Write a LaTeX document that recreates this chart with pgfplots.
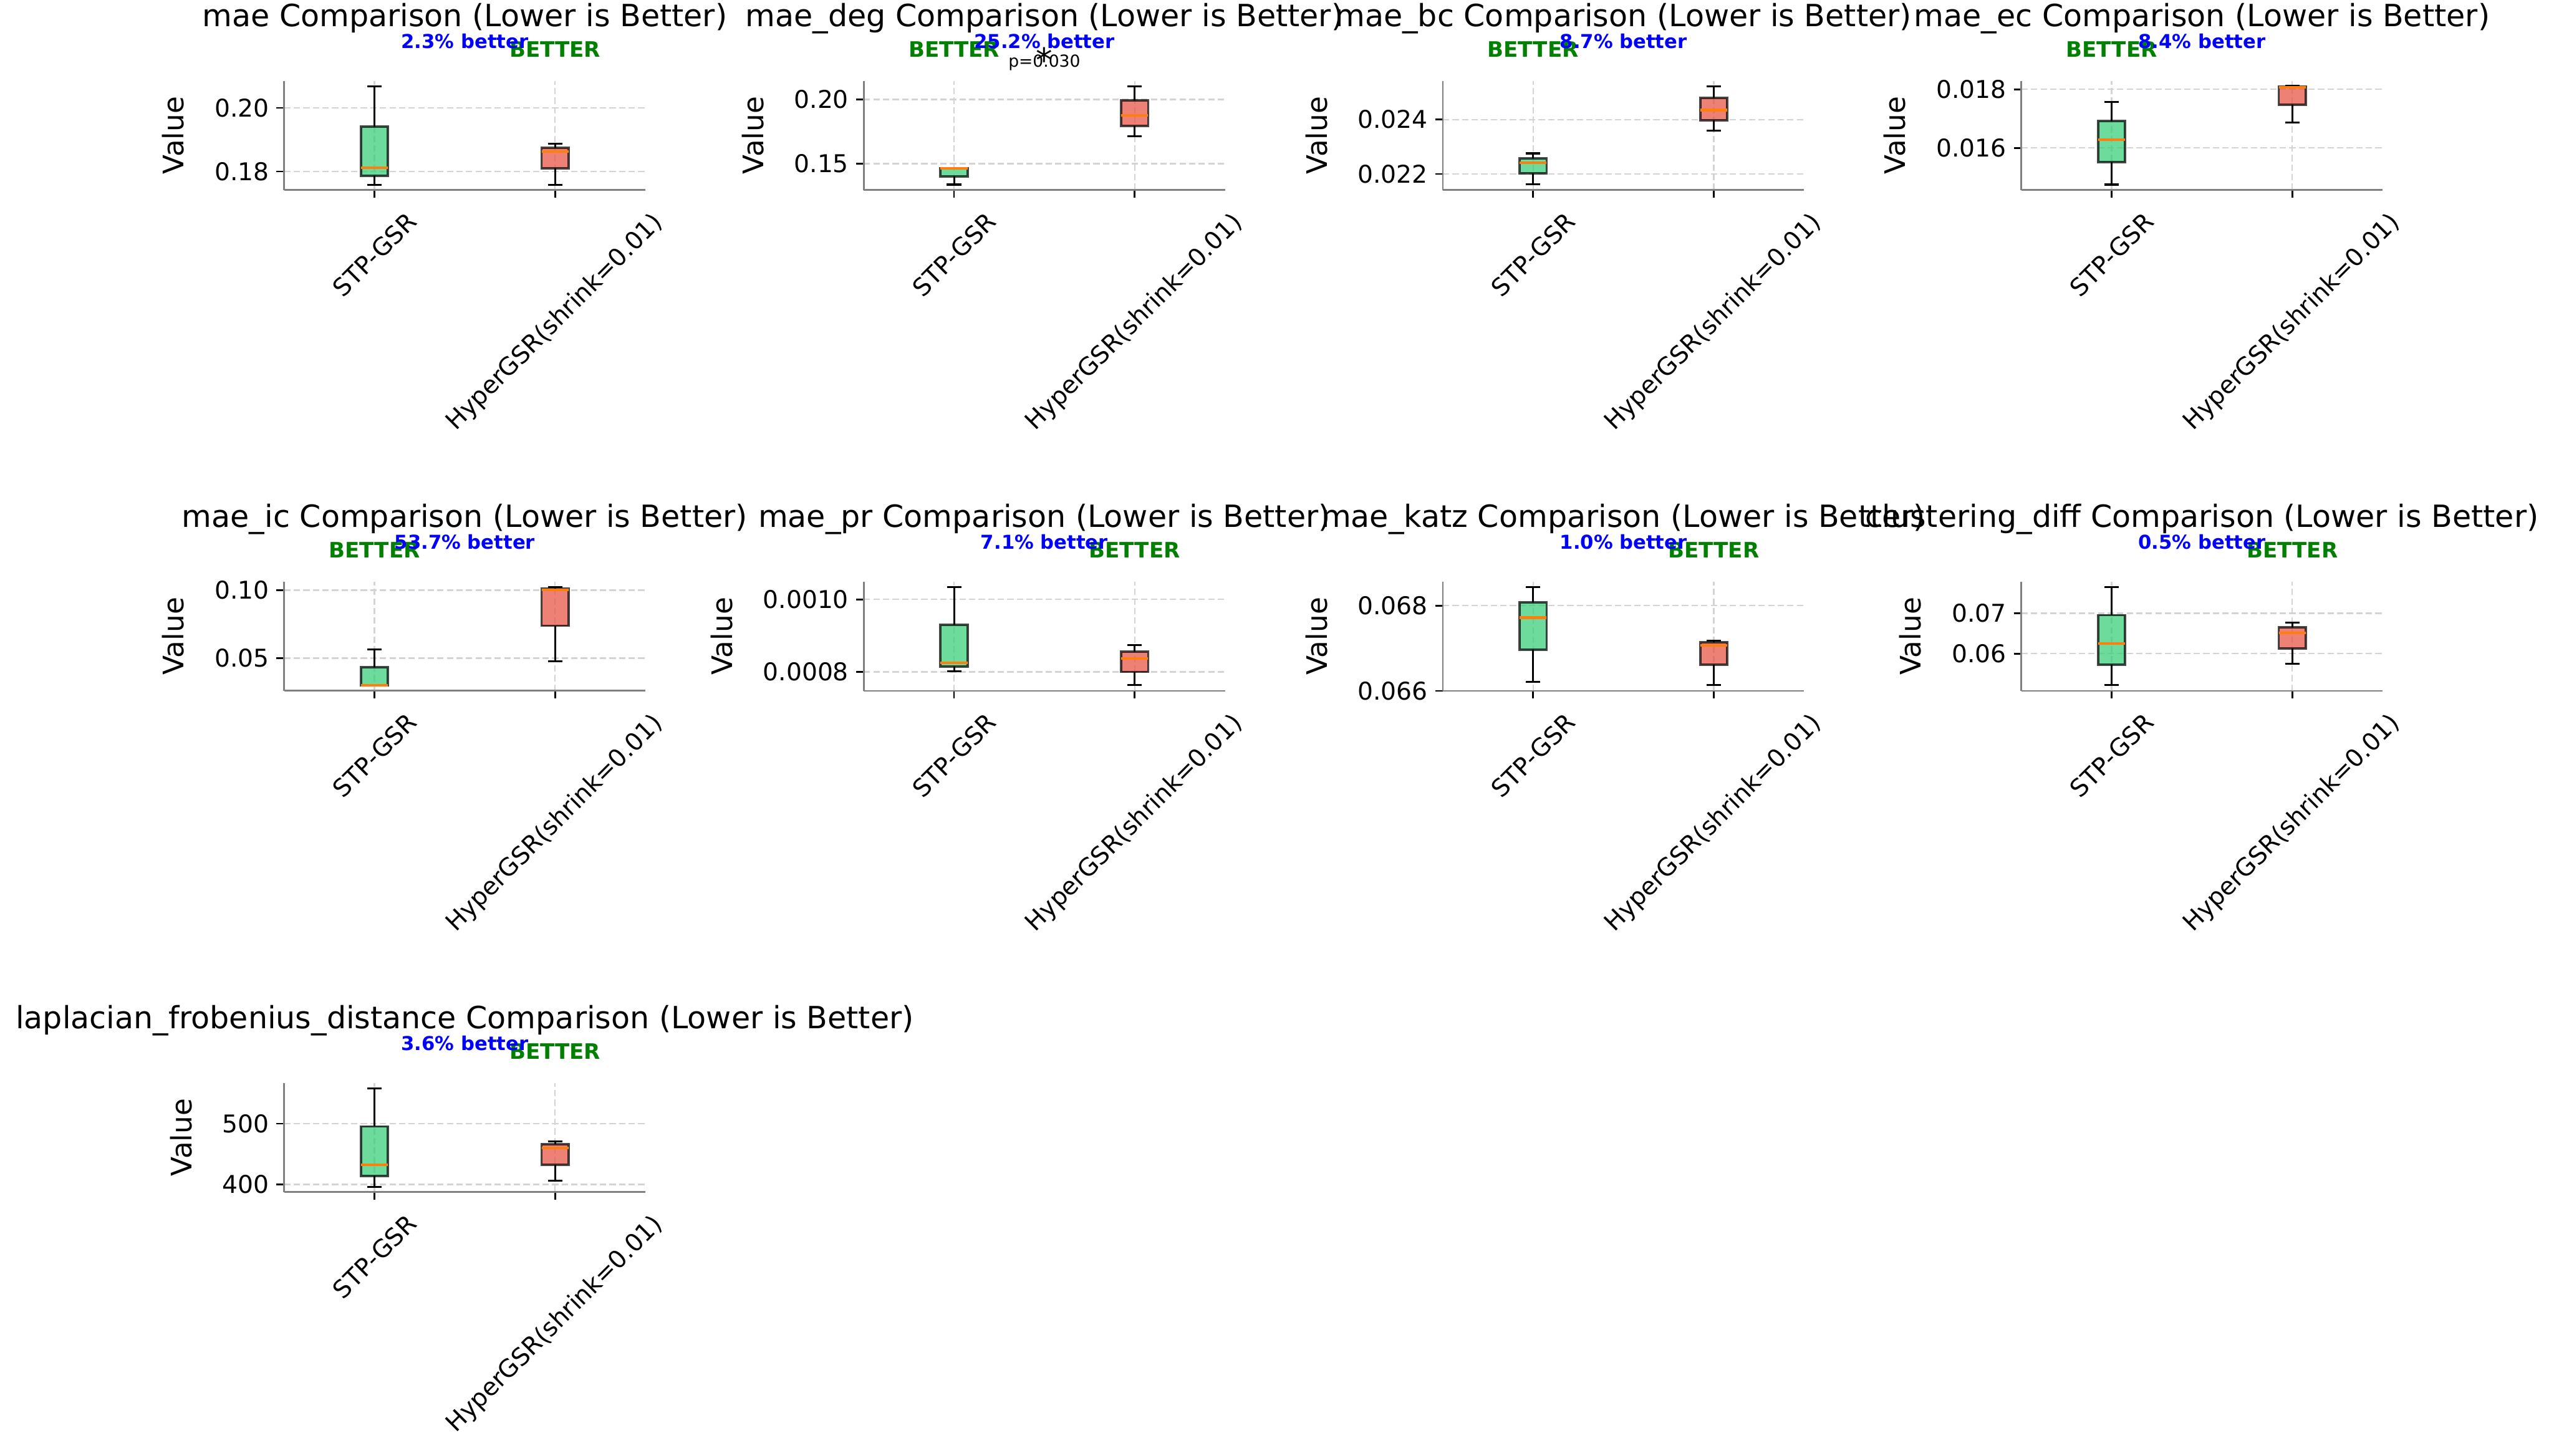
\documentclass[border=0pt]{standalone}
\usepackage{fontspec}
\setmainfont{DejaVu Sans}
\usepackage{graphicx}
\usepackage{pgfplots}
\pgfplotsset{compat=1.18}
\usepgfplotslibrary{statistics}
\definecolor{bgreen}{HTML}{2ECC71}
\definecolor{bred}{HTML}{E74C3C}
\definecolor{medorange}{HTML}{FF7F0E}
\definecolor{txtgreen}{HTML}{008000}
\definecolor{gridc}{HTML}{D3D3D3}
\definecolor{spinec}{HTML}{808080}

\pgfplotsset{
  /pgf/number format/assume math mode=true,
  cmp/.style={
    scale only axis, width=169.92pt, height=51.36pt,
    anchor=north west, clip=false,
    xmin=0.5, xmax=2.5, xtick={1,2},
    xticklabels={\rotatebox{45}{STP-GSR},\rotatebox{45}{HyperGSR(shrink=0.01)}},
    axis x line*=bottom, axis y line*=left,
    axis line style={draw=spinec, line width=0.8pt, -},
    tick align=outside, tick pos=left, major tick length=3.6pt,
    every tick/.style={black, line width=0.8pt},
    grid=major,
    major grid style={draw=gridc, dash pattern=on 3pt off 1.5pt, line width=0.7pt},
    ticklabel style={font=\fontsize{11.5}{13}\selectfont},
    xticklabel style={anchor=north, yshift=-2.6pt},
    ylabel={Value},
    ylabel style={font=\fontsize{13.3}{15}\selectfont, at={(ticklabel cs:0.5,7.4pt)}},
    title style={font=\fontsize{14.4}{16}\selectfont, at={(0.5,1.382)}, anchor=base},
    scaled y ticks=false,
    /pgf/number format/fixed, /pgf/number format/fixed zerofill,
    boxplot/draw direction=y,
    boxplot/box extend=0.15, boxplot/whisker extend=0.08,
    boxplot/every median/.style={draw=medorange, draw opacity=1, line width=1.2pt},
    boxplot/every whisker/.style={draw=black, draw opacity=1, line width=0.9pt},
  }
}

% box: position, lower whisker, lower quartile, median, upper quartile, upper whisker, colour
\newcommand{\bx}[7]{%
  \addplot[fill=#7, fill opacity=0.7, draw=black, draw opacity=0.72, line width=1.1pt,
    boxplot prepared={draw position=#1, lower whisker=#2, lower quartile=#3,
      median=#4, upper quartile=#5, upper whisker=#6}] coordinates {};}
\newcommand{\better}[2]{%
  \node[anchor=base, font=\fontsize{10}{12}\selectfont\bfseries, text=txtgreen]
    at (axis description cs:#1,1.218) {BETTER};
  \node[anchor=base, font=\fontsize{9}{11}\selectfont\bfseries, text=blue]
    at (axis description cs:0.5,1.296) {#2\% better};}

\begin{document}
\begin{tikzpicture}
\useasboundingbox (0,0) rectangle (1201.44pt,-684.72pt);

% Row 1
\begin{axis}[cmp, at={(133.68pt,-37.99pt)},
  title={mae Comparison (Lower is Better)},
  ymin=0.1742, ymax=0.2085, ytick={0.18,0.20}, /pgf/number format/precision=2]
\bx{1}{0.1758}{0.1786}{0.1811}{0.1941}{0.2067}{bgreen}
\bx{2}{0.1758}{0.1810}{0.1862}{0.1875}{0.1888}{bred}
\better{0.75}{2.3}
\end{axis}

\begin{axis}[cmp, at={(406.32pt,-37.99pt)},
  title={mae\_deg Comparison (Lower is Better)},
  ymin=0.1296, ymax=0.2146, ytick={0.15,0.20}, /pgf/number format/precision=2]
\bx{1}{0.1338}{0.1402}{0.1463}{0.1464}{0.1465}{bgreen}
\bx{2}{0.1712}{0.1795}{0.1878}{0.1993}{0.2103}{bred}
\better{0.25}{25.2}
\node[anchor=base, font=\fontsize{7.8}{9}\selectfont] at (axis description cs:0.5,1.124) {p=0.030};
\node[anchor=base, font=\fontsize{15.6}{17}\selectfont] at (axis description cs:0.5,1.081) {*};
\end{axis}

% values in units of 0.001
\begin{axis}[cmp, at={(678.72pt,-37.99pt)},
  title={mae\_bc Comparison (Lower is Better)},
  ymin=21.413, ymax=25.425, ytick={22,24}, yticklabels={0.022,0.024}]
\bx{1}{21.612}{22.019}{22.413}{22.581}{22.756}{bgreen}
\bx{2}{23.599}{23.968}{24.349}{24.793}{25.224}{bred}
\better{0.25}{8.7}
\end{axis}

% values in units of 0.001
\begin{axis}[cmp, at={(950.88pt,-37.99pt)},
  title={mae\_ec Comparison (Lower is Better)},
  ymin=14.569, ymax=18.29, ytick={16,18}, yticklabels={0.016,0.018}]
\bx{1}{14.753}{15.518}{16.278}{16.927}{17.565}{bgreen}
\bx{2}{16.857}{17.466}{18.075}{18.099}{18.127}{bred}
\better{0.25}{8.4}
\end{axis}

% Row 2
\begin{axis}[cmp, at={(133.68pt,-273.6pt)},
  title={mae\_ic Comparison (Lower is Better)},
  ymin=0.026, ymax=0.10638, ytick={0.05,0.10}, /pgf/number format/precision=2]
\bx{1}{0.0297}{0.0298}{0.0300}{0.04347}{0.0566}{bgreen}
\bx{2}{0.0476}{0.07386}{0.10012}{0.10138}{0.10236}{bred}
\better{0.25}{53.7}
\end{axis}

% values in units of 0.0001
\begin{axis}[cmp, at={(406.32pt,-273.6pt)},
  title={mae\_pr Comparison (Lower is Better)},
  ymin=7.48, ymax=10.49, ytick={8,10}, yticklabels={0.0008,0.0010}]
\bx{1}{8.022}{8.15}{8.257}{9.297}{10.34}{bgreen}
\bx{2}{7.635}{8.0}{8.37}{8.557}{8.749}{bred}
\better{0.75}{7.1}
\end{axis}

% values in units of 0.001
\begin{axis}[cmp, at={(678.72pt,-273.6pt)},
  title={mae\_katz Comparison (Lower is Better)},
  ymin=66.0, ymax=68.562, ytick={66,68}, yticklabels={0.066,0.068}]
\bx{1}{66.21}{66.968}{67.717}{68.08}{68.434}{bgreen}
\bx{2}{66.131}{66.61}{67.068}{67.136}{67.175}{bred}
\better{0.75}{1.0}
\end{axis}

\begin{axis}[cmp, at={(950.88pt,-273.6pt)},
  title={clustering\_diff Comparison (Lower is Better)},
  ymin=0.05079, ymax=0.07782, ytick={0.06,0.07}, /pgf/number format/precision=2]
\bx{1}{0.05218}{0.0573}{0.06247}{0.06953}{0.07647}{bgreen}
\bx{2}{0.05743}{0.0613}{0.06513}{0.06647}{0.06769}{bred}
\better{0.75}{0.5}
\end{axis}

% Row 3, values in units of 100
\begin{axis}[cmp, at={(133.68pt,-509.35pt)},
  title={laplacian\_frobenius\_distance Comparison (Lower is Better)},
  ymin=3.874, ymax=5.674, ytick={4,5}, yticklabels={400,500}]
\bx{1}{3.96}{4.135}{4.323}{4.955}{5.586}{bgreen}
\bx{2}{4.056}{4.326}{4.603}{4.659}{4.710}{bred}
\better{0.75}{3.6}
\end{axis}
\end{tikzpicture}
\end{document}
